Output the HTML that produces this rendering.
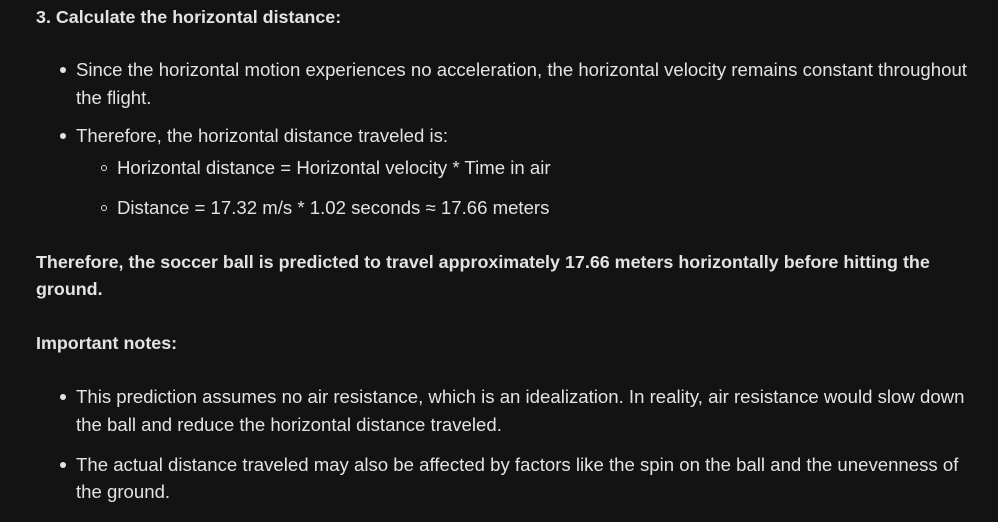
<!DOCTYPE html>
<html><head><meta charset="utf-8"><style>
html,body{margin:0;padding:0;background:#131313;width:998px;height:522px;overflow:hidden}
body{font-family:"Liberation Sans",sans-serif;color:#e3e3e3;font-size:18.6px;position:relative}
.l{position:absolute;white-space:nowrap;line-height:20px}
.b{font-weight:bold;font-size:17.9px}
.dot{position:absolute;width:6px;height:6px;border-radius:50%;background:#e3e3e3}
.circ{position:absolute;width:4px;height:4px;border-radius:50%;border:1.3px solid #e3e3e3}
</style></head><body>
<div class="l b" style="left:36px;top:7px">3. Calculate the horizontal distance:</div>

<div class="dot" style="left:60px;top:67px"></div>
<div class="l" style="left:76px;top:60px">Since the horizontal motion experiences no acceleration, the horizontal velocity remains constant throughout</div>
<div class="l" style="left:76px;top:88px">the flight.</div>

<div class="dot" style="left:60px;top:133px"></div>
<div class="l" style="left:76px;top:126px">Therefore, the horizontal distance traveled is:</div>

<div class="circ" style="left:101px;top:165px"></div>
<div class="l" style="left:117px;top:158px">Horizontal distance = Horizontal velocity * Time in air</div>

<div class="circ" style="left:101px;top:205px"></div>
<div class="l" style="left:117px;top:198px">Distance = 17.32 m/s * 1.02 seconds ≈ 17.66 meters</div>

<div class="l b" style="left:36px;top:252px">Therefore, the soccer ball is predicted to travel approximately 17.66 meters horizontally before hitting the</div>
<div class="l b" style="left:36px;top:279px">ground.</div>

<div class="l b" style="left:36px;top:333px">Important notes:</div>

<div class="dot" style="left:60px;top:394px"></div>
<div class="l" style="left:76px;top:387px">This prediction assumes no air resistance, which is an idealization. In reality, air resistance would slow down</div>
<div class="l" style="left:76px;top:415px">the ball and reduce the horizontal distance traveled.</div>

<div class="dot" style="left:60px;top:462px"></div>
<div class="l" style="left:76px;top:455px">The actual distance traveled may also be affected by factors like the spin on the ball and the unevenness of</div>
<div class="l" style="left:76px;top:482px">the ground.</div>
</body></html>
